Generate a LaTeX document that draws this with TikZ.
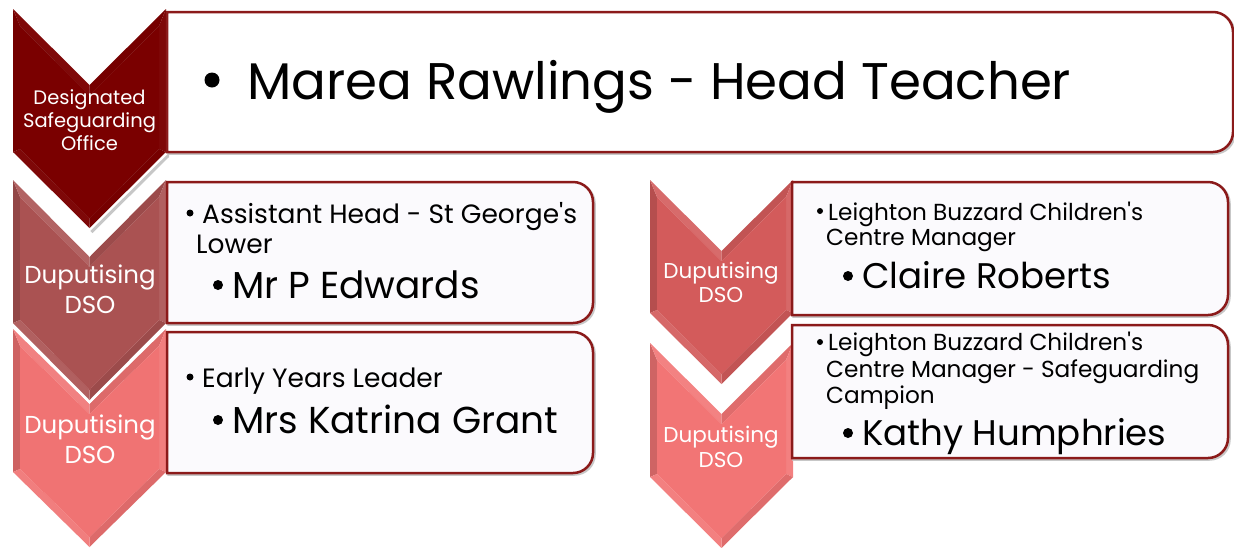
\documentclass[tikz,border=0pt]{standalone}
\usepackage{fontspec}
\setmainfont{Poppins}
\usetikzlibrary{calc}

\definecolor{maroon}{HTML}{7A0000}
\definecolor{dusk}{HTML}{AA5252}
\definecolor{coral}{HTML}{F07373}
\definecolor{rosered}{HTML}{D35B5B}
\definecolor{salmon}{HTML}{F27575}
\definecolor{boxedge}{HTML}{8B1A1A}
\definecolor{boxfill}{HTML}{FBFAFD}

\tikzset{
  boxline/.style={draw=boxedge, line width=2.5pt},
  txt/.style={anchor=base west, inner sep=0pt, text=black},
  lbl/.style={anchor=base, inner sep=0pt, text=white},
  fs/.style={font=\fontsize{#1}{#1}\selectfont},
  dot/.style={circle, fill=black, inner sep=0pt, minimum size=#1},
}

% chevron with bevelled facets: name, left, top, width, height, notch depth, colour, facet mix
\newcommand\drawchev[8]{%
  \pgfmathsetmacro\chL{#2}\pgfmathsetmacro\chR{#2+#4}\pgfmathsetmacro\chM{#2+#4/2}%
  \pgfmathsetmacro\chT{-#3}\pgfmathsetmacro\chN{-#3-#6}%
  \pgfmathsetmacro\chS{-#3-#5}\pgfmathsetmacro\chP{-#3-#5-#6}%
  \pgfmathsetmacro\chLi{\chL+7}\pgfmathsetmacro\chRi{\chR-7}%
  \pgfmathsetmacro\chTi{\chT-17}\pgfmathsetmacro\chNi{\chN-10}%
  \pgfmathsetmacro\chSi{\chS+3}\pgfmathsetmacro\chPi{\chP+10}%
  \pgfmathsetmacro\chMixA{100-(100-#8)*1.8}%
  \pgfmathsetmacro\chMixB{100-(100-#8)*1.2}%
  \coordinate (#1-A) at (\chL,\chT);  \coordinate (#1-N) at (\chM,\chN);
  \coordinate (#1-B) at (\chR,\chT);  \coordinate (#1-C) at (\chR,\chS);
  \coordinate (#1-P) at (\chM,\chP);  \coordinate (#1-D) at (\chL,\chS);
  \coordinate (#1-a) at (\chLi,\chTi); \coordinate (#1-n) at (\chM,\chNi);
  \coordinate (#1-b) at (\chRi,\chTi); \coordinate (#1-c) at (\chRi,\chSi);
  \coordinate (#1-p) at (\chM,\chPi);  \coordinate (#1-d) at (\chLi,\chSi);
  \draw[white, line width=5pt, line join=miter]
    (#1-A) -- (#1-N) -- (#1-B) -- (#1-C) -- (#1-P) -- (#1-D) -- cycle;
  \fill[#7!\chMixA!black] (#1-A) -- (#1-a) -- (#1-d) -- (#1-D) -- cycle;
  \fill[#7!\chMixB!white] (#1-A) -- (#1-N) -- (#1-n) -- (#1-a) -- cycle;
  \fill[#7!#8!black] (#1-N) -- (#1-B) -- (#1-b) -- (#1-n) -- cycle;
  \fill[#7!#8!white] (#1-B) -- (#1-C) -- (#1-c) -- (#1-b) -- cycle;
  \fill[#7!#8!black] (#1-C) -- (#1-P) -- (#1-p) -- (#1-c) -- cycle;
  \fill[#7!#8!white] (#1-D) -- (#1-d) -- (#1-p) -- (#1-P) -- cycle;
  \fill[#7] (#1-a) -- (#1-n) -- (#1-b) -- (#1-c) -- (#1-p) -- (#1-d) -- cycle;
}

% text panel, square on the left and rounded on the right: left, top, right, bottom, fill
\newcommand\drawpanel[5]{%
  \draw[black!22, line width=2.5pt, shift={(1.5,-1.5)}]
    (#1,-#2) -- (#3-20,-#2) arc[start angle=90, end angle=0, radius=20]
    -- (#3,-#4+20) arc[start angle=0, end angle=-90, radius=20] -- (#1,-#4) -- cycle;
  \draw[boxline, fill=#5]
    (#1,-#2) -- (#3-20,-#2) arc[start angle=90, end angle=0, radius=20]
    -- (#3,-#4+20) arc[start angle=0, end angle=-90, radius=20] -- (#1,-#4) -- cycle;
}

\begin{document}
\begin{tikzpicture}[x=1pt, y=1pt]
\fill[white] (0,0) rectangle (1234,-547);
\useasboundingbox (0,0) rectangle (1234,-547);

% left column of chevrons, lowest first
\drawchev{cvc}{13}{329}{153}{143}{75}{coral}{92}
\drawchev{cvb}{13}{180}{153}{143}{77}{dusk}{92}
\fill[black, opacity=.22, shift={(3,-5)}]
  (13,-9) -- (89.5,-85) -- (166,-9) -- (166,-152) -- (89.5,-228) -- (13,-152) -- cycle;
\drawchev{cva}{13}{9}{153}{143}{76}{maroon}{97}

% right column of chevrons
\drawchev{cve}{650}{343}{143}{134}{71}{salmon}{92}
\drawchev{cvd}{650}{180}{143}{133}{71}{rosered}{92}

% panels
\drawpanel{167}{12}{1233}{152}{white}
\drawpanel{167}{182}{593}{323}{boxfill}
\drawpanel{167}{332}{593}{473}{boxfill}
\drawpanel{792}{182}{1228}{315}{boxfill}
\drawpanel{792}{325}{1228}{458}{boxfill}

% chevron labels
\node[lbl, fs=19.5] (la1) at (89.5,-104) {Designated};
\node[lbl, fs=19.5] (la2) at (89.5,-127.5) {Safeguarding};
\node[lbl, fs=19.5] (la3) at (89.5,-150) {Office};
\node[lbl, fs=24.5] (lb1) at (90,-283) {Duputising};
\node[lbl, fs=24.5] (lb2) at (90,-313) {DSO};
\node[lbl, fs=24.5] (lc1) at (90,-433) {Duputising};
\node[lbl, fs=24.5] (lc2) at (90,-463) {DSO};
\node[lbl, fs=21.5] (ld1) at (721,-278) {Duputising};
\node[lbl, fs=21.5] (ld2) at (721,-302) {DSO};
\node[lbl, fs=21.5] (le1) at (721,-442) {Duputising};
\node[lbl, fs=21.5] (le2) at (721,-467) {DSO};

% head teacher
\node[dot=15] (ha) at (212,-80) {};
\node[txt, fs=51.5] (hb) at (247,-99) {Marea Rawlings - Head Teacher};

% assistant head
\node[dot=7] (pa0) at (190,-213) {};
\node[txt, fs=26.5] (pa1) at (202,-223) {Assistant Head - St George\textquotesingle s};
\node[txt, fs=26.5] (pa2) at (196,-253) {Lower};
\node[dot=10] (pa3) at (218,-285) {};
\node[txt, fs=37.5] (pa4) at (232,-298) {Mr P Edwards};

% early years
\node[dot=7] (pb0) at (190,-377) {};
\node[txt, fs=26.5] (pb1) at (202,-387) {Early Years Leader};
\node[dot=10] (pb3) at (218,-420) {};
\node[txt, fs=37.5] (pb4) at (232,-433) {Mrs Katrina Grant};

% children's centre manager
\node[dot=6] (pc0) at (820,-211) {};
\node[txt, fs=23.2] (pc1) at (828,-220) {Leighton Buzzard Children\textquotesingle s};
\node[txt, fs=23.2] (pc2) at (826,-245) {Centre Manager};
\node[dot=10] (pc3) at (848,-276) {};
\node[txt, fs=35.6] (pc4) at (862,-288) {Claire Roberts};

% safeguarding champion
\node[dot=6] (pd0) at (820,-342) {};
\node[txt, fs=23.2] (pd1) at (828,-350) {Leighton Buzzard Children\textquotesingle s};
\node[txt, fs=23.2] (pd2) at (826,-377) {Centre Manager - Safeguarding};
\node[txt, fs=23.2] (pd3) at (826,-403) {Campion};
\node[dot=10] (pd4) at (848,-433) {};
\node[txt, fs=35.6] (pd5) at (862,-445) {Kathy Humphries};
\end{tikzpicture}
\end{document}
